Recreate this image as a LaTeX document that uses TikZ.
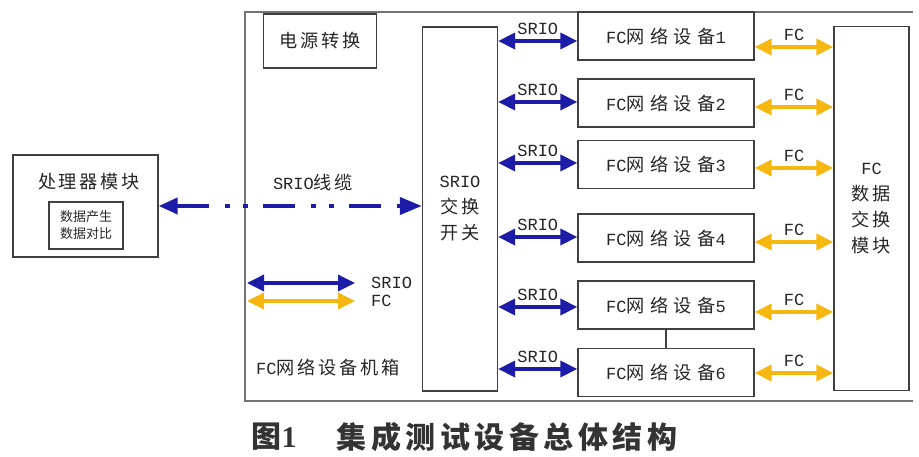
\documentclass[tikz,border=0pt]{standalone}
\usepackage{fontspec}
\setmainfont{Liberation Mono}
\newfontfamily\cjk{Noto Sans CJK SC}[LetterSpace=15,Scale=1.07]
\newfontfamily\cjkwide{Noto Sans CJK SC}[LetterSpace=30,Scale=1.07]
\newfontfamily\cjkplain{Noto Sans CJK SC}
\newfontfamily\cjkcap{Noto Sans CJK SC}[LetterSpace=15]
\newfontfamily\capnum{Liberation Serif}
\usetikzlibrary{arrows.meta,positioning,calc}
\definecolor{srioblue}{RGB}{28,28,168}
\definecolor{fcyellow}{RGB}{246,184,16}
\tikzstyle{box}=[draw=black!75,line width=1.3pt,inner sep=0pt,text=black!85,font=\fontsize{17}{26}\selectfont,align=center]
\tikzstyle{fcdev}=[box,minimum width=176pt,minimum height=48pt]
\tikzstyle{tall}=[box,minimum width=75pt,minimum height=364pt]
\tikzstyle{lbl}=[inner sep=0pt,text=black!85,font=\fontsize{17}{20}\selectfont]
\tikzstyle{srio}=[draw=srioblue,line width=3.5pt,{Triangle[length=17pt,width=16pt]}-{Triangle[length=17pt,width=16pt]}]
\tikzstyle{fc}=[draw=fcyellow,line width=3.5pt,{Triangle[length=17pt,width=16pt]}-{Triangle[length=17pt,width=16pt]}]
\tikzstyle{cable}=[draw=srioblue,line width=4pt,dash pattern=on 32pt off 16pt on 5pt off 13pt on 5pt off 15pt,{Triangle[length=19pt,width=16pt]}-{Triangle[length=22pt,width=17pt]}]

\begin{document}
\begin{tikzpicture}[x=1pt,y=-1pt]
    \useasboundingbox (0,0) rectangle (919,457);
    % chassis
    \draw[black!55,line width=2.2pt] (913,12) -| (245,401) -- (913,401);
    \node [box,minimum width=113pt,minimum height=54pt] (pwr) at (320,41) {\cjk 电源转换};
    \node [tall] (sw) at (460,209) {SRIO\\{\cjk 交换}\\{\cjk 开关}};
    \node [tall] (fcx) at (871.5,208.5) {FC\\{\cjk 数据}\\{\cjk 交换}\\{\cjk 模块}};
    % devices
    \foreach \i/\y/\s/\f in {1/36/-5/-11, 2/103/1/-4, 3/164.5/1.5/-3.5, 4/238/1/-4, 5/305/-2/-7, 6/372.5/3.5/-0.5} {
      \node [fcdev] (d\i) at (666,\y) {FC{\cjkwide 网络设备}\i};
      \draw [srio] ([yshift=\s pt]d\i.west -| sw.east) -- ([yshift=\s pt]d\i.west)
        node [lbl,midway,above=5pt] {SRIO};
      \draw [fc] ([yshift=\f pt]d\i.east) -- ([yshift=\f pt]d\i.east -| fcx.west)
        node [lbl,midway,above=5pt] {FC};
    }
    \draw [black!75,line width=1.3pt] (d5.south) -- (d6.north);
    % processor
    \node [box,minimum width=145pt,minimum height=102pt] (proc) at (85.5,206) {};
    \node [lbl] (proct) at (89,182) {\cjk 处理器模块};
    \node [box,minimum width=74pt,minimum height=47pt,font=\fontsize{13}{17}\selectfont] (gen) at (86,225.5)
      {{\cjkplain 数据产生}\\{\cjkplain 数据对比}};
    \draw [cable] (proc.east) -- (proc.east -| sw.west);
    \node [lbl] (cablelbl) at (313,183) {SRIO{\cjk 线缆}};
    % legend
    \coordinate (lgsa) at (247,283);
    \coordinate (lgsb) at (355,283);
    \coordinate (lgfa) at (247,301);
    \coordinate (lgfb) at (355,301);
    \draw [srio] (lgsa) -- (lgsb);
    \draw [fc] (lgfa) -- (lgfb);
    \node [lbl,anchor=west] (lsrio) at (371,283) {SRIO};
    \node [lbl,anchor=west] (lfc) at (371,301) {FC};
    \node [lbl,anchor=west] (chlbl) at (256,367) {FC{\cjk 网络设备机箱}};
    % caption
    \node [inner sep=0pt,text=black!80,font=\fontsize{30}{30}\selectfont\bfseries] (capno) at (274,437)
      {{\cjkplain 图}{\capnum 1}};
    \node [inner sep=0pt,text=black!80,font=\fontsize{30}{30}\selectfont\bfseries] (captxt) at (507,437)
      {\cjkcap 集成测试设备总体结构};
\end{tikzpicture}
\end{document}
